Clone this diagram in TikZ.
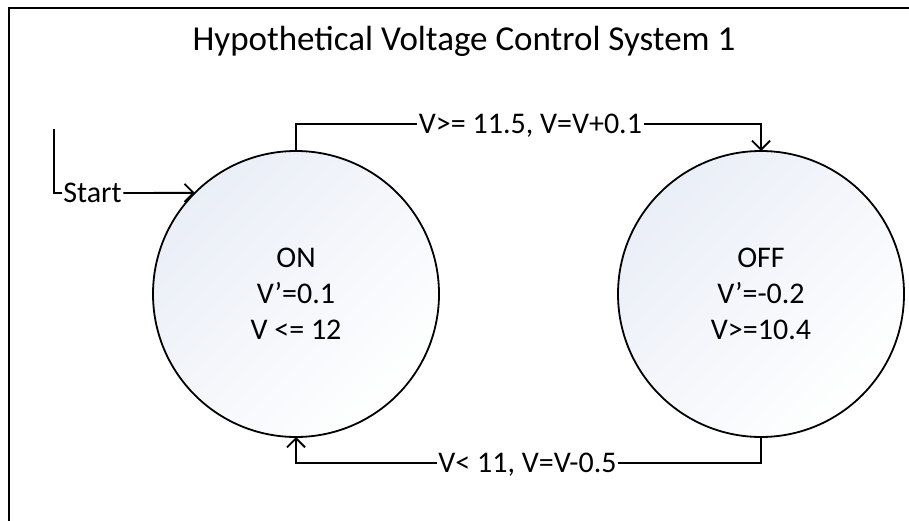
\documentclass[tikz,border=0pt]{standalone}
\usepackage{fontspec}
\setmainfont{Carlito}
\usetikzlibrary{arrows.meta}
\definecolor{shadeblue}{RGB}{234,238,247}
\begin{document}
\begin{tikzpicture}[x=1pt,y=-1pt,
  lbl/.style={font=\fontsize{30}{36}\selectfont, text height=19.3pt, text depth=0pt, inner sep=1.5pt},
  titlestyle/.style={font=\fontsize{35}{42}\selectfont, text height=22.5pt, text depth=0pt, inner sep=0pt},
  state/.style={circle, draw, line width=1.8pt, minimum size=286pt, inner sep=0pt, outer sep=0pt,
    align=center, font=\fontsize{30}{36}\selectfont,
    top color=shadeblue, bottom color=white, shading angle=45},
  conn/.style={line width=1.9pt},
  arr/.style={conn, -{Straight Barb[length=9pt,width=18pt]}},
  frame/.style={line width=2pt}]
\useasboundingbox (0,0) rectangle (909,521);
% frame
\coordinate (fb) at (9,521);
\coordinate (fc) at (9,8);
\coordinate (fr) at (909,8);
\draw[frame] (fb) -- (fc) -- (fr);
% title
\node[titlestyle] (title) at (464,39) {Hypothetical Voltage Control System 1};
% states
\node[state] (on) at (296,294) {ON\\V’=0.1\\V <= 12};
\node[state] (off) at (761,294) {OFF\\V’=-0.2\\V>=10.4};
% start
\node[lbl] (start) at (92.5,193) {Start};
\coordinate (s0) at (54,129);
\draw[conn] (s0) |- (start.west);
\draw[arr] (start.east) -- (on.135);
% transitions
\node[lbl] (t1) at (530.5,124) {V>= 11.5, V=V+0.1};
\draw[conn] (on.north) |- (t1.west);
\draw[arr] (t1.east) -| (off.north);
\node[lbl] (t2) at (527.5,463) {V< 11, V=V-0.5};
\draw[conn] (off.south) |- (t2.east);
\draw[arr] (t2.west) -| (on.south);
\end{tikzpicture}
\end{document}
